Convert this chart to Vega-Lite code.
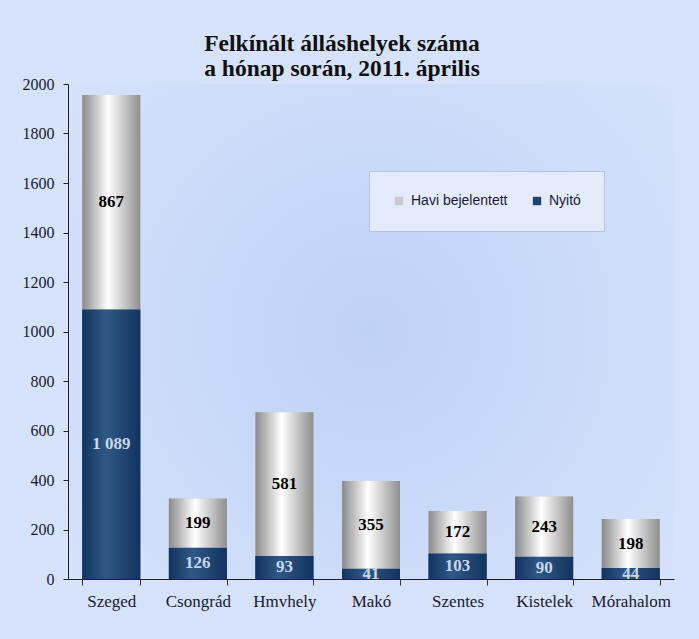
{
  "$schema": "https://vega.github.io/schema/vega-lite/v6.json",
  "width": 606,
  "height": 495,
  "autosize": {"type": "none"},
  "padding": {"left": 68, "top": 84, "right": 25, "bottom": 60},
  "background": "#d5e2f9",
  "title": {
    "text": ["Felkínált álláshelyek száma", "a hónap során, 2011. április"],
    "font": "Liberation Serif",
    "fontSize": 23.5,
    "fontWeight": "bold",
    "color": "#111111",
    "lineHeight": 25,
    "anchor": "middle",
    "dx": -29,
    "offset": -4
  },
  "data": {
    "values": [
      {"city": "Szeged", "series": "Nyitó", "value": 1089},
      {"city": "Szeged", "series": "Havi bejelentett", "value": 867},
      {"city": "Csongrád", "series": "Nyitó", "value": 126},
      {"city": "Csongrád", "series": "Havi bejelentett", "value": 199},
      {"city": "Hmvhely", "series": "Nyitó", "value": 93},
      {"city": "Hmvhely", "series": "Havi bejelentett", "value": 581},
      {"city": "Makó", "series": "Nyitó", "value": 41},
      {"city": "Makó", "series": "Havi bejelentett", "value": 355},
      {"city": "Szentes", "series": "Nyitó", "value": 103},
      {"city": "Szentes", "series": "Havi bejelentett", "value": 172},
      {"city": "Kistelek", "series": "Nyitó", "value": 90},
      {"city": "Kistelek", "series": "Havi bejelentett", "value": 243},
      {"city": "Mórahalom", "series": "Nyitó", "value": 44},
      {"city": "Mórahalom", "series": "Havi bejelentett", "value": 198}
    ]
  },
  "transform": [
    {"stack": "value", "groupby": ["city"], "sort": [{"field": "series", "order": "descending"}], "as": ["y0", "y1"]},
    {"calculate": "(datum.y0 + datum.y1) / 2", "as": "mid"}
  ],
  "encoding": {
    "x": {
      "field": "city",
      "type": "nominal",
      "sort": ["Szeged", "Csongrád", "Hmvhely", "Makó", "Szentes", "Kistelek", "Mórahalom"],
      "scale": {"paddingInner": 0.33, "paddingOuter": 0.165},
      "axis": {
        "title": null,
        "labelAngle": 0,
        "labelFont": "Liberation Serif",
        "labelFontSize": 17,
        "labelColor": "#1a1a33",
        "labelPadding": 8,
        "tickBand": "extent",
        "tickSize": 6,
        "tickColor": "#333333",
        "domainColor": "#222222",
        "grid": false
      }
    },
    "y": {
      "field": "y1",
      "type": "quantitative",
      "scale": {"domain": [0, 2000]},
      "axis": {
        "title": null,
        "values": [0, 200, 400, 600, 800, 1000, 1200, 1400, 1600, 1800, 2000],
        "format": "d",
        "grid": false,
        "labelFont": "Liberation Serif",
        "labelFontSize": 16,
        "labelColor": "#1a1a33",
        "labelPadding": 9,
        "tickSize": 5,
        "tickColor": "#222222",
        "domainColor": "#222222"
      }
    },
    "y2": {"field": "y0"}
  },
  "layer": [
    {
      "mark": {"type": "bar"},
      "encoding": {
        "color": {
          "field": "series",
          "type": "nominal",
          "scale": {
            "domain": ["Havi bejelentett", "Nyitó"],
            "range": ["#c9c9c9", "#1f426e"]
          },
          "legend": {
            "title": null,
            "orient": "none",
            "legendX": 301,
            "legendY": 87,
            "direction": "horizontal",
            "symbolType": "square",
            "symbolSize": 70,
            "symbolStrokeWidth": 0,
            "labelFont": "Liberation Sans",
            "labelFontSize": 14,
            "labelColor": "#1a1a33",
            "labelOffset": 5,
            "columnPadding": 22,
            "padding": 23,
            "fillColor": "#e2eafb",
            "strokeColor": "#b7c3da"
          }
        }
      }
    },
    {
      "transform": [{"filter": "datum.series === 'Havi bejelentett'"}],
      "mark": {
        "type": "bar",
        "color": {"gradient": "linear", "x1": 0, "y1": 0, "x2": 1, "y2": 0, "stops": [{"offset": 0, "color": "#8a8a8a"}, {"offset": 0.45, "color": "#ffffff"}, {"offset": 1, "color": "#8e8e8e"}]}
      }
    },
    {
      "transform": [{"filter": "datum.series === 'Nyitó'"}],
      "mark": {
        "type": "bar",
        "color": {"gradient": "linear", "x1": 0, "y1": 0, "x2": 1, "y2": 0, "stops": [{"offset": 0, "color": "#12335f"}, {"offset": 0.4, "color": "#2f5985"}, {"offset": 1, "color": "#12335f"}]}
      }
    },
    {
      "mark": {"type": "text", "font": "Liberation Serif", "fontSize": 17, "fontWeight": "bold", "baseline": "middle"},
      "encoding": {
        "y": {"field": "mid", "type": "quantitative"},
        "y2": null,
        "text": {"field": "value", "type": "quantitative", "format": ",d"},
        "color": {
          "condition": {"test": "datum.series === 'Nyitó'", "value": "#c8d7ec"},
          "value": "#000000"
        }
      }
    }
  ],
  "config": {
    "locale": {"number": {"decimal": ",", "thousands": " ", "grouping": [3], "currency": ["", ""]}},
    "view": {
      "stroke": null,
      "fill": {"gradient": "radial", "x1": 0.5, "y1": 0.5, "x2": 0.5, "y2": 0.5, "r1": 0, "r2": 0.75, "stops": [{"offset": 0, "color": "#bed2f7"}, {"offset": 1, "color": "#d9e4fa"}]}
    }
  }
}
